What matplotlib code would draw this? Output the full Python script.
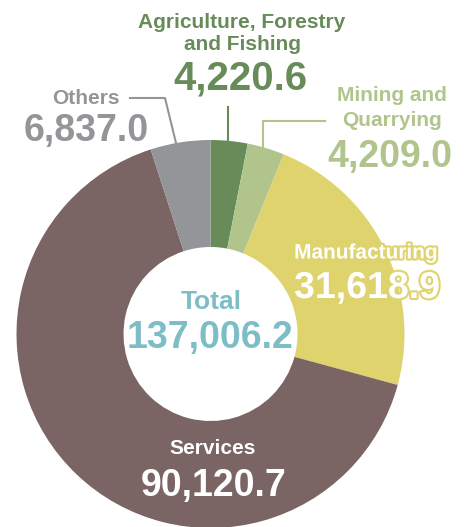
import matplotlib.pyplot as plt
import matplotlib.patheffects as pe

plt.rcParams['font.family'] = ['Liberation Sans', 'DejaVu Sans']

sectors = ["Agriculture, Forestry\nand Fishing", "Mining and\nQuarrying",
           "Manufacturing", "Services", "Others"]
values = [4220.6, 4209.0, 31618.9, 90120.7, 6837.0]
colors = ["#678b59", "#b1c48c", "#dfd36e", "#7a6464", "#949598"]
total = sum(values)

W, H = 469, 527
fig = plt.figure(figsize=(W / 100, H / 100), dpi=100)
ax = fig.add_axes([0, 0, 1, 1])

# pie in pixel-like coords (y inverted, so counterclock=True draws clockwise on screen)
cx, cy, r, r_in = 210.5, 334, 194, 87
ax.pie(values, colors=colors, startangle=-90, counterclock=True,
       center=(cx, cy), radius=r, frame=True,
       wedgeprops=dict(width=r - r_in, linewidth=0))
ax.set_xlim(0, W)
ax.set_ylim(H, 0)
ax.set_aspect("equal")
ax.axis("off")

def fmt(v):
    return f"{v:,.1f}"

lab = 15
big = 27

# Agriculture
ax.text(242, 33, sectors[0], ha="center", va="center", fontsize=lab,
        fontweight="bold", color=colors[0], linespacing=1.2)
ax.text(240, 79, fmt(values[0]), ha="center", va="center", fontsize=29,
        fontweight="bold", color=colors[0])
ax.plot([228, 228], [107, 142], color=colors[0], lw=1.5)

# Mining
ax.text(392, 108, sectors[1], ha="center", va="center", fontsize=lab,
        fontweight="bold", color=colors[1], linespacing=1.45)
ax.text(390, 157, fmt(values[1]), ha="center", va="center", fontsize=big,
        fontweight="bold", color=colors[1])
ax.plot([263, 263, 325], [148, 121, 121], color=colors[1], lw=1.5)

# Others
ax.text(86, 99, sectors[4], ha="center", va="center", fontsize=lab,
        fontweight="bold", color=colors[4])
ax.text(86, 131, fmt(values[4]), ha="center", va="center", fontsize=big,
        fontweight="bold", color=colors[4])
ax.plot([130, 165, 176], [98, 98, 143], color=colors[4], lw=1.5)

# Manufacturing (white with yellow outline)
stroke = [pe.withStroke(linewidth=3, foreground="#dfd36e")]
ax.text(366, 253, sectors[2], ha="center", va="center", fontsize=lab,
        fontweight="bold", color="white", path_effects=stroke)
ax.text(367, 288, fmt(values[2]), ha="center", va="center", fontsize=big,
        fontweight="bold", color="white", path_effects=stroke)

# Services
ax.text(213, 449, sectors[3], ha="center", va="center", fontsize=lab,
        fontweight="bold", color="white")
ax.text(214, 486, fmt(values[3]), ha="center", va="center", fontsize=big,
        fontweight="bold", color="white")

# Total
teal = "#7dbec6"
ax.text(211, 302, "Total", ha="center", va="center", fontsize=19,
        fontweight="bold", color=teal)
ax.text(210, 338, fmt(total), ha="center", va="center", fontsize=big,
        fontweight="bold", color=teal)

fig.savefig("out.png", dpi=100)
